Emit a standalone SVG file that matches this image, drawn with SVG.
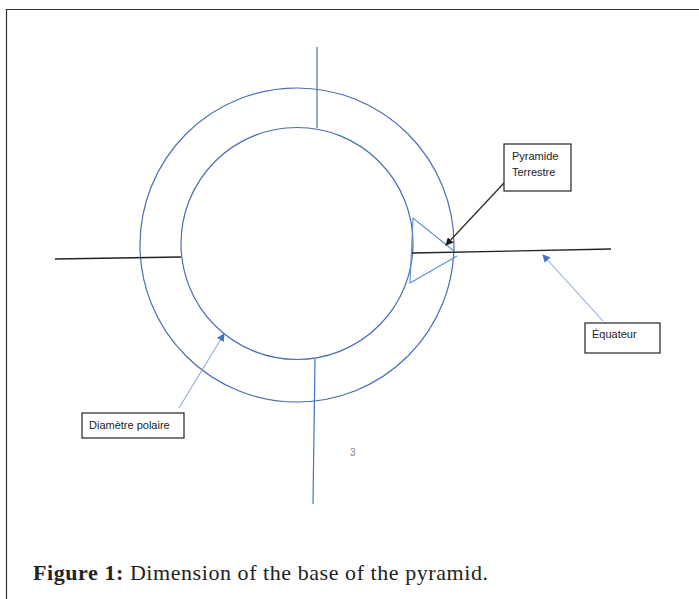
<svg xmlns="http://www.w3.org/2000/svg" width="699" height="599" viewBox="0 0 699 599">
<style>
.circ{fill:none;stroke:#4a6db3;stroke-width:1.2}
.axis{fill:none;stroke:#4472c4;stroke-width:1.2}
.blk{fill:none;stroke:#222;stroke-width:1.3}
.box{fill:#fff;stroke:#222;stroke-width:1.2}
.lbl{font-family:"Liberation Sans",Arial,sans-serif;font-size:11px;fill:#222}
.ptr{fill:none;stroke:#8eaadb;stroke-width:1.1}
</style>
<defs>
<marker id="ab" markerWidth="8" markerHeight="8" refX="7" refY="4" orient="auto" markerUnits="userSpaceOnUse"><path d="M0,0 L8,4 L0,8 z" fill="#222"/></marker>
<marker id="ablue" markerWidth="8" markerHeight="8" refX="7" refY="4" orient="auto" markerUnits="userSpaceOnUse"><path d="M0,0 L8,4 L0,8 z" fill="#4472c4"/></marker>
</defs>
<rect width="699" height="599" fill="#fff"/>
<path d="M6.5,599 V9.5 H699" fill="none" stroke="#333" stroke-width="1.2"/>
<g id="earth">
<circle class="circ" cx="297" cy="245" r="157"/>
<circle class="circ" cx="297" cy="243.5" r="116"/>
</g>
<g id="axes">
<line class="axis" x1="317" y1="47" x2="317" y2="128"/>
<line class="axis" x1="315" y1="359" x2="313" y2="504"/>
<line class="blk" x1="55" y1="259" x2="181" y2="257"/>
<line class="blk" x1="412" y1="253" x2="611" y2="249"/>
</g>
<g id="pyramid">
<polyline points="454,251 413,218 410,283 457,256" fill="none" stroke="#5b8bd8" stroke-width="1.1"/>
</g>
<g id="connectors">
<line x1="504" y1="183" x2="446" y2="245" stroke="#333" stroke-width="1.4" marker-end="url(#ab)"/>
<line class="ptr" x1="603" y1="321" x2="543" y2="255" marker-end="url(#ablue)"/>
<line class="ptr" x1="179" y1="408" x2="224" y2="334" marker-end="url(#ablue)"/>
</g>
<g id="node-pyramide">
<rect class="box" x="504" y="144" width="67" height="47"/>
<text class="lbl" x="512" y="160">Pyramide</text>
<text class="lbl" x="512" y="176">Terrestre</text>
</g>
<g id="node-equateur">
<rect class="box" x="585" y="323" width="75" height="30"/>
<text class="lbl" x="592" y="338">Équateur</text>
</g>
<g id="node-diametre">
<rect class="box" x="82" y="413" width="102" height="25"/>
<text class="lbl" x="89" y="429">Diamètre polaire</text>
</g>
<text x="350" y="456" font-family="Liberation Sans,Arial,sans-serif" font-size="10" fill="#888">3</text>
<text x="33" y="580" font-family="Liberation Serif,Times New Roman,serif" font-size="22" fill="#222" textLength="455" lengthAdjust="spacing"><tspan font-weight="bold">Figure 1:</tspan> Dimension of the base of the pyramid.</text>
</svg>
